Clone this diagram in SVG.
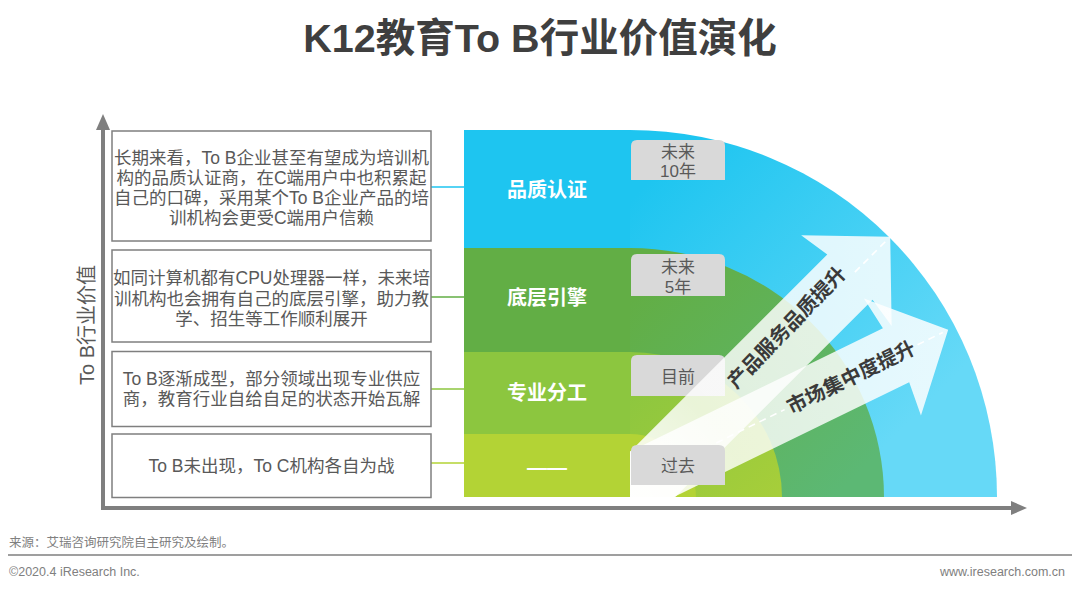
<svg xmlns="http://www.w3.org/2000/svg" width="1080" height="591" viewBox="0 0 1080 591">
<style>
.t{font-family:"Liberation Sans","Noto Sans CJK SC",sans-serif;}
.box{fill:#fff;stroke:#7f7f7f;stroke-width:1.5;}
.bt{font-size:17.5px;fill:#595959;text-anchor:middle;}
.band{font-size:20px;font-weight:bold;fill:#fff;text-anchor:middle;}
.tag{fill:#d9d9d9;}
.tt{font-size:17px;fill:#595959;text-anchor:middle;}
.axis{stroke:#7f7f7f;stroke-width:4;fill:none;}
.conn{stroke-width:1.5;fill:none;}
.arrow{fill:url(#arrowFade);}
.dash{stroke:#fff;stroke-width:1.6;stroke-dasharray:7 5;fill:none;}
.al{font-size:20px;font-weight:bold;fill:#3a3a3a;text-anchor:middle;}
.foot{font-size:12.5px;fill:#808080;}
</style>
<defs>
<linearGradient id="gBlue" gradientUnits="userSpaceOnUse" x1="680" y1="150" x2="930" y2="400">
<stop offset="0" stop-color="#1ec5f0"/><stop offset="1" stop-color="#66d9f7"/>
</linearGradient>
<linearGradient id="gGreen" gradientUnits="userSpaceOnUse" x1="660" y1="270" x2="860" y2="470">
<stop offset="0" stop-color="#62ae45"/><stop offset="1" stop-color="#5cb874"/>
</linearGradient>
<linearGradient id="gLight" gradientUnits="userSpaceOnUse" x1="650" y1="360" x2="775" y2="497">
<stop offset="0" stop-color="#8cc63f"/><stop offset="1" stop-color="#a6ce3a"/>
</linearGradient>
<linearGradient id="arrowFade" x1="0" y1="0" x2="1" y2="0">
<stop offset="0" stop-color="#fff" stop-opacity="0.98"/>
<stop offset="0.4" stop-color="#fff" stop-opacity="0.8"/>
<stop offset="1" stop-color="#fff" stop-opacity="0.85"/>
</linearGradient>
<clipPath id="chartClip"><rect x="630" y="100" width="400" height="397"/></clipPath>
</defs>

<rect width="1080" height="591" fill="#fff"/>

<g id="title">
<text class="t" x="540" y="52" font-size="39.5" font-weight="bold" fill="#3f3f3f" text-anchor="middle">K12教育To B行业价值演化</text>
</g>

<g id="axes">
<line class="axis" x1="103" y1="510" x2="103" y2="128"/>
<polygon points="103,114 96,130 110,130" fill="#7f7f7f"/>
<line class="axis" x1="101" y1="508" x2="1013" y2="508"/>
<polygon points="1027,508 1011,501 1011,515" fill="#7f7f7f"/>
<text class="t" transform="translate(94,325) rotate(-90)" font-size="20" fill="#595959" text-anchor="middle">To B行业价值</text>
</g>

<g id="chart">
<path d="M630,130 A367,367 0 0 1 997,497 L630,497 Z" fill="url(#gBlue)"/>
<path d="M630,248 A254,249 0 0 1 884,497 L630,497 Z" fill="url(#gGreen)"/>
<path d="M630,352 A152,145 0 0 1 782,497 L630,497 Z" fill="url(#gLight)"/>
<path d="M630,434 A66,63 0 0 1 696,497 L630,497 Z" fill="#b3d335"/>
<rect x="464" y="130" width="166" height="118" fill="#1ec5f0"/>
<rect x="464" y="248" width="166" height="104" fill="#62ae45"/>
<rect x="464" y="352" width="166" height="82" fill="#8cc63f"/>
<rect x="464" y="434" width="166" height="63" fill="#b3d335"/>
</g>

<g id="band-quality"><text class="t band" x="547" y="197">品质认证</text></g>
<g id="band-engine"><text class="t band" x="547" y="305">底层引擎</text></g>
<g id="band-division"><text class="t band" x="547" y="400">专业分工</text></g>
<g id="band-none"><text class="t band" x="547" y="474">——</text></g>

<g id="tag-10y">
<path class="tag" d="M631,180 V146 Q631,140 637,140 H719 Q725,140 725,146 V180 Z"/>
<text class="t tt" x="678" y="158">未来</text>
<text class="t tt" x="678" y="177">10年</text>
</g>
<g id="tag-5y">
<path class="tag" d="M631,296 V260 Q631,254 637,254 H719 Q725,254 725,260 V296 Z"/>
<text class="t tt" x="678" y="273">未来</text>
<text class="t tt" x="678" y="293">5年</text>
</g>
<g id="tag-now">
<path class="tag" d="M631,396 V361 Q631,355 637,355 H719 Q725,355 725,361 V396 Z"/>
<text class="t tt" x="678" y="383">目前</text>
</g>

<g id="arrows" clip-path="url(#chartClip)">
<g id="arrow-market" transform="translate(630,485) rotate(-26)">
<polygon class="arrow" points="-60,-30 296,-30 292,-65 354,0 292,65 296,30 -60,30"/>
<line class="dash" x1="60" y1="0" x2="172" y2="0"/>
<line class="dash" x1="320" y1="0" x2="348" y2="0"/>
</g>
<g id="arrow-quality" transform="translate(630,497) rotate(-45)">
<polygon class="arrow" points="-60,-32 311,-32 306,-64 368,0 306,64 311,32 -60,32"/>
<line class="dash" x1="318" y1="0" x2="362" y2="0"/>
</g>
</g>

<g id="tag-past">
<path class="tag" d="M631,485 V451 Q631,445 637,445 H719 Q725,445 725,451 V485 Z"/>
<text class="t tt" x="678" y="472">过去</text>
</g>

<g id="arrow-labels">
<text class="t al" transform="translate(630,497) rotate(-46)" x="231" y="2">产品服务品质提升</text>
<text class="t al" transform="translate(630,485) rotate(-26)" x="246" y="7">市场集中度提升</text>
</g>

<g id="connectors">
<line class="conn" x1="431" y1="187" x2="464" y2="187" stroke="#1ec5f0"/>
<line class="conn" x1="431" y1="297" x2="464" y2="297" stroke="#62ae45"/>
<line class="conn" x1="431" y1="389" x2="464" y2="389" stroke="#8cc63f"/>
<line class="conn" x1="431" y1="463" x2="464" y2="463" stroke="#b3d335"/>
</g>

<g id="box-future10">
<rect class="box" x="112" y="131" width="319" height="110"/>
<text class="t bt" x="271.5" y="164">长期来看，To B企业甚至有望成为培训机</text>
<text class="t bt" x="271.5" y="184">构的品质认证商，在C端用户中也积累起</text>
<text class="t bt" x="271.5" y="204">自己的口碑，采用某个To B企业产品的培</text>
<text class="t bt" x="271.5" y="224">训机构会更受C端用户信赖</text>
</g>
<g id="box-future5">
<rect class="box" x="112" y="250" width="319" height="92"/>
<text class="t bt" x="271.5" y="284">如同计算机都有CPU处理器一样，未来培</text>
<text class="t bt" x="271.5" y="304.5">训机构也会拥有自己的底层引擎，助力教</text>
<text class="t bt" x="271.5" y="325">学、招生等工作顺利展开</text>
</g>
<g id="box-now">
<rect class="box" x="112" y="351.5" width="319" height="75"/>
<text class="t bt" x="271.5" y="385">To B逐渐成型，部分领域出现专业供应</text>
<text class="t bt" x="271.5" y="405">商，教育行业自给自足的状态开始瓦解</text>
</g>
<g id="box-past">
<rect class="box" x="112" y="434" width="319" height="63.5"/>
<text class="t bt" x="271.5" y="472">To B未出现，To C机构各自为战</text>
</g>

<g id="footer">
<text class="t foot" x="9" y="547">来源：艾瑞咨询研究院自主研究及绘制。</text>
<line x1="8" y1="555" x2="1072" y2="555" stroke="#7f7f7f" stroke-width="1.5"/>
<text class="t foot" x="9" y="576" font-size="13">©2020.4 iResearch Inc.</text>
<text class="t foot" x="1065" y="576" font-size="13" text-anchor="end">www.iresearch.com.cn</text>
</g>
</svg>
